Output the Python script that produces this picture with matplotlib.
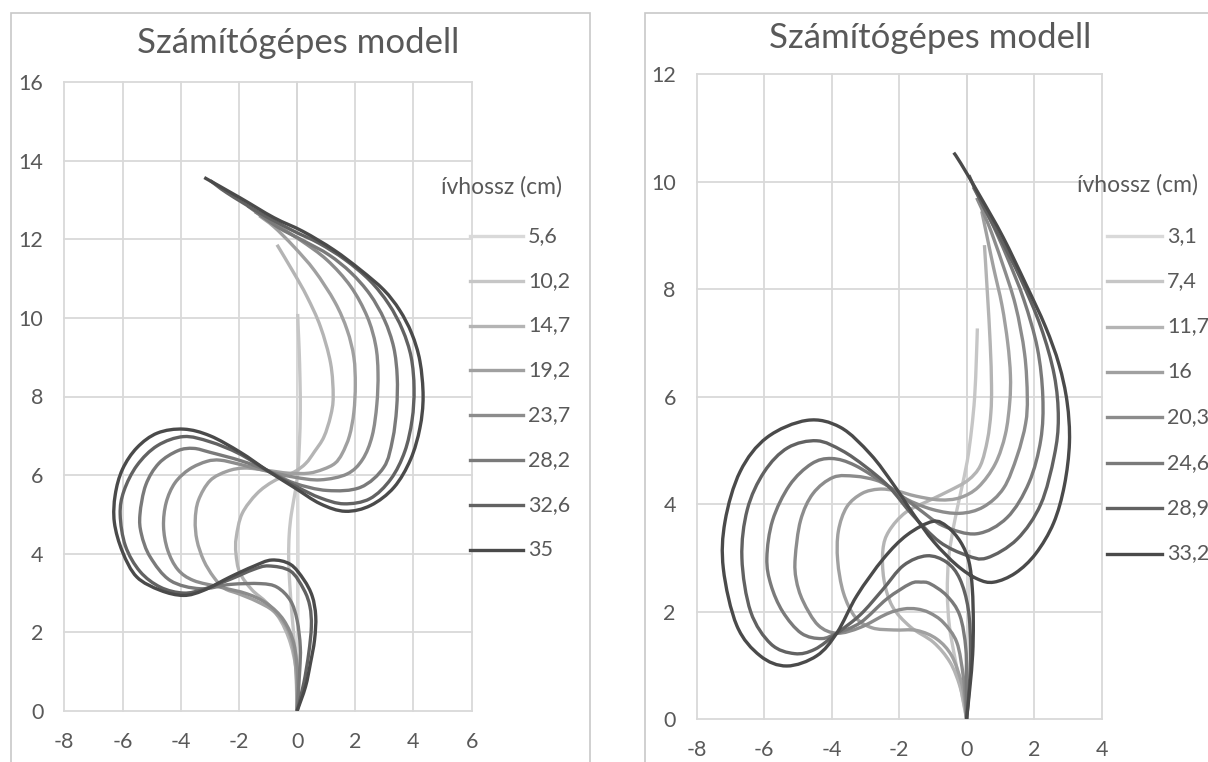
import matplotlib
matplotlib.use("Agg")
import matplotlib.pyplot as plt
from matplotlib.lines import Line2D
from matplotlib.patches import Rectangle, PathPatch
from matplotlib.path import Path

plt.rcParams['font.family'] = ['Lato', 'DejaVu Sans']
plt.rcParams['axes.unicode_minus'] = False

# Left chart: traced shapes, one x/y list per arc length
l_5_6_x = [0, 0.02, 0.03, 0.03, 0.02]
l_5_6_y = [0, 1.5, 3.0, 4.5, 5.6]

l_10_2_x = [0, -0.03, -0.08, -0.17, -0.25, -0.29, -0.27, -0.2, -0.06, 0.02, 0.08, 0.11, 0.1, 0.07, 0.04, 0.02]
l_10_2_y = [0, 0.8, 1.6, 2.4, 3.2, 3.9, 4.5, 5.0, 5.6, 6.05, 6.8, 7.6, 8.4, 9.2, 9.7, 10.1]

l_14_7_x = [0, -0.02, -0.23, -0.58, -1.04, -1.56, -1.97, -2.1, -2.09, -1.89, -1.38, -0.8, -0.1, 0.3, 0.6,
            0.92, 1.15, 1.24, 1.15, 0.8, 0.34, -0.11, -0.69]
l_14_7_y = [0, 0.96, 1.73, 2.32, 2.75, 3.09, 3.52, 4.0, 4.42, 5.02, 5.53, 5.85, 6.08, 6.3, 6.6,
            6.97, 7.5, 8.0, 8.85, 9.78, 10.54, 11.14, 11.86]

l_19_2_x = [0, -0.02, -0.12, -0.35, -0.81, -1.39, -2.0, -2.5, -2.87, -3.21, -3.44, -3.5, -3.39, -2.99,
            -2.4, -1.8, -1.03, -0.3, 0.4, 0.9, 1.3, 1.55, 1.8, 1.95, 2.0, 1.95, 1.72, 1.3, 0.6,
            -0.11, -0.8, -1.3]
l_19_2_y = [0, 0.79, 1.56, 2.11, 2.54, 2.79, 2.98, 3.12, 3.41, 3.83, 4.34, 4.85, 5.36, 5.86,
            6.1, 6.18, 6.12, 6.05, 6.05, 6.15, 6.3, 6.55, 7.0, 7.6, 8.3, 9.0, 9.69, 10.4, 11.2,
            11.81, 12.32, 12.6]

l_23_7_x = [0, 0.02, -0.11, -0.46, -1.03, -1.72, -2.64, -3.56, -4.1, -4.45, -4.59, -4.5, -4.2, -3.7,
            -3.1, -2.64, -2.0, -1.03, -0.11, 0.8, 1.72, 2.25, 2.58, 2.74, 2.78, 2.7, 2.41, 1.84, 1.03,
            0.11, -0.8, -1.45]
l_23_7_y = [0, 0.86, 1.71, 2.31, 2.73, 2.98, 3.15, 3.32, 3.6, 4.1, 4.7, 5.3, 5.8, 6.15,
            6.35, 6.38, 6.28, 6.1, 5.95, 5.88, 6.03, 6.4, 7.0, 7.8, 8.6, 9.3, 10.03, 10.8, 11.47,
            11.98, 12.4, 12.7]

l_28_2_x = [0, 0.09, 0.11, 0.0, -0.23, -0.69, -1.26, -2.3, -3.33, -4.36, -5.05, -5.35, -5.4, -5.2,
            -4.75, -4.1, -3.56, -2.99, -1.95, -1.03, -0.11, 1.03, 2.18, 2.98, 3.28, 3.42, 3.44, 3.32,
            3.0, 2.5, 1.85, 1.1, 0.25, -0.69, -1.7]
l_28_2_y = [0, 1.03, 1.63, 2.31, 2.81, 3.15, 3.24, 3.22, 3.11, 3.32, 3.92, 4.5, 5.0, 5.75,
            6.3, 6.62, 6.68, 6.58, 6.37, 6.12, 5.8, 5.61, 5.69, 6.2, 6.9, 7.7, 8.5, 9.25,
            9.95, 10.6, 11.15, 11.6, 11.95, 12.32, 12.85]

l_32_6_x = [0, 0.23, 0.4, 0.49, 0.44, 0.23, -0.23, -0.98, -1.5, -2.3, -3.2, -3.9, -4.7, -5.4, -5.9,
            -6.08, -5.95, -5.5, -4.8, -3.9, -3.0, -2.0, -1.03, 0.0, 0.8, 1.61, 2.5, 3.22, 3.7, 3.95,
            4.02, 3.92, 3.62, 3.15, 2.5, 1.65, 0.75, -0.15, -1.26, -2.41, -2.98]
l_32_6_y = [0, 0.71, 1.47, 2.15, 2.66, 3.09, 3.56, 3.69, 3.6, 3.35, 3.1, 3.0, 3.15, 3.55, 4.2,
            5.0, 5.6, 6.25, 6.75, 6.98, 6.85, 6.55, 6.12, 5.7, 5.42, 5.27, 5.4, 5.9, 6.6, 7.4,
            8.2, 9.0, 9.7, 10.35, 10.95, 11.48, 11.9, 12.22, 12.66, 13.18, 13.49]

l_35_x = [0, 0.29, 0.46, 0.6, 0.64, 0.52, 0.23, -0.23, -0.87, -1.5, -2.3, -3.21, -3.9, -4.7, -5.51,
          -6.0, -6.28, -6.25, -6.0, -5.5, -4.8, -3.9, -2.99, -1.95, -1.03, -0.11, 0.8, 1.66, 2.53,
          3.33, 3.9, 4.22, 4.33, 4.22, 3.94, 3.52, 2.98, 2.18, 1.26, 0.2, -0.8, -1.95, -3.19]
l_35_y = [0, 0.62, 1.22, 1.81, 2.41, 2.92, 3.34, 3.73, 3.84, 3.68, 3.41, 3.07, 2.94, 3.07, 3.41,
          4.05, 4.8, 5.5, 6.15, 6.7, 7.07, 7.17, 7.0, 6.58, 6.12, 5.69, 5.27, 5.08, 5.23,
          5.69, 6.4, 7.2, 8.0, 8.9, 9.6, 10.2, 10.71, 11.22, 11.73, 12.2, 12.55, 13.05, 13.57]

left_labels = ['5,6', '10,2', '14,7', '19,2', '23,7', '28,2', '32,6', '35']

# Right chart
r_3_1_x = [0, 0.03, 0.05, 0.07]
r_3_1_y = [0, 1.0, 2.1, 3.15]

r_7_4_x = [0, -0.15, -0.34, -0.51, -0.57, -0.53, -0.38, -0.18, 0.02, 0.15, 0.24, 0.29, 0.32]
r_7_4_y = [0, 0.5, 1.12, 1.74, 2.36, 3.0, 3.6, 4.2, 4.8, 5.4, 6.0, 6.7, 7.27]

r_11_7_x = [0, -0.05, -0.2, -0.49, -0.98, -1.67, -2.2, -2.45, -2.48, -2.3, -1.8, -1.07, -0.48, 0.05,
            0.41, 0.62, 0.72, 0.74, 0.7, 0.62, 0.53]
r_11_7_y = [0, 0.19, 0.62, 1.06, 1.43, 1.72, 2.1, 2.6, 3.15, 3.5, 3.85, 4.08, 4.26, 4.45,
            4.72, 5.2, 5.7, 6.2, 7.0, 7.9, 8.82]

r_16_x = [0, -0.05, -0.15, -0.44, -0.88, -1.47, -2.16, -2.8, -3.3, -3.65, -3.82, -3.8, -3.55, -3.1,
          -2.6, -2.1, -1.5, -0.8, -0.2, 0.35, 0.85, 1.15, 1.28, 1.3, 1.22, 1.05, 0.8, 0.6, 0.45]
r_16_y = [0, 0.3, 0.68, 1.18, 1.49, 1.65, 1.66, 1.7, 1.9, 2.35, 2.95, 3.5, 3.95, 4.2,
          4.28, 4.25, 4.15, 4.08, 4.12, 4.32, 4.75, 5.3, 5.9, 6.4, 7.0, 7.7, 8.4, 9.0, 9.45]

r_20_3_x = [0, -0.03, -0.1, -0.29, -0.69, -1.1, -1.47, -1.87, -2.36, -3.14, -3.84, -4.4, -4.85, -5.05,
            -5.08, -4.92, -4.55, -3.95, -3.3, -2.7, -2.31, -1.8, -1.0, -0.2, 0.5, 1.1, 1.5, 1.75,
            1.8, 1.72, 1.45, 1.05, 0.65, 0.3]
r_20_3_y = [0, 0.3, 0.81, 1.43, 1.8, 1.98, 2.05, 2.05, 1.96, 1.71, 1.6, 1.75, 2.2, 2.6,
            3.0, 3.7, 4.2, 4.5, 4.52, 4.45, 4.33, 4.1, 3.9, 3.83, 3.95, 4.3, 4.9, 5.5,
            6.0, 6.8, 7.7, 8.5, 9.2, 9.7]

r_24_6_x = [0, -0.01, -0.02, -0.2, -0.59, -1.08, -1.35, -1.67, -2.36, -3.14, -3.84, -4.3, -4.9, -5.45,
            -5.8, -5.92, -5.75, -5.25, -4.6, -4.0, -3.3, -2.31, -1.5, -0.7, 0.3, 1.2, 1.85, 2.2,
            2.26, 2.1, 1.7, 1.2, 0.7, 0.2]
r_24_6_y = [0, 0.6, 1.3, 1.93, 2.3, 2.52, 2.55, 2.52, 2.24, 1.8, 1.6, 1.5, 1.6, 2.0,
            2.5, 3.0, 3.7, 4.35, 4.75, 4.85, 4.72, 4.33, 3.95, 3.6, 3.45, 3.75, 4.4, 5.2,
            6.0, 6.9, 7.8, 8.6, 9.3, 9.9]

r_28_9_x = [0, 0.08, 0.12, 0.05, -0.2, -0.59, -1.18, -1.87, -2.5, -3.14, -3.84, -4.5, -5.1, -5.8,
            -6.4, -6.66, -6.5, -6.0, -5.3, -4.44, -3.7, -3.0, -2.31, -1.6, -0.8, 0.0, 0.6, 1.5,
            2.2, 2.6, 2.72, 2.6, 2.2, 1.6, 1.0, 0.45, 0.07]
r_28_9_y = [0, 0.6, 1.3, 2.05, 2.61, 2.92, 3.04, 2.86, 2.4, 1.95, 1.6, 1.3, 1.22, 1.4,
            2.0, 3.0, 3.9, 4.6, 5.05, 5.18, 5.0, 4.7, 4.33, 3.8, 3.3, 3.05, 3.0, 3.35,
            4.0, 4.9, 5.6, 6.4, 7.3, 8.2, 8.95, 9.6, 10.12]

r_33_2_x = [0, 0.1, 0.18, 0.2, 0.17, 0.07, -0.18, -0.57, -1.0, -1.76, -2.46, -3.25, -3.84, -4.44,
            -5.33, -6.12, -6.81, -7.21, -7.16, -6.71, -5.92, -4.73, -3.74, -2.85, -2.16, -1.56,
            -0.97, -0.28, 0.32, 0.81, 1.45, 2.05, 2.58, 2.9, 3.05, 2.98, 2.74, 2.34, 1.76, 1.08,
            0.41, -0.17, -0.38]
r_33_2_y = [0, 0.6, 1.2, 1.8, 2.43, 2.93, 3.3, 3.58, 3.68, 3.43, 2.99, 2.3, 1.61, 1.18,
            0.99, 1.18, 1.74, 2.8, 3.68, 4.61, 5.24, 5.56, 5.43, 4.93, 4.36, 3.8,
            3.3, 2.86, 2.61, 2.55, 2.72, 3.08, 3.65, 4.35, 5.15, 5.9, 6.6, 7.3, 8.09, 8.97,
            9.72, 10.34, 10.54]

right_labels = ['3,1', '7,4', '11,7', '16', '20,3', '24,6', '28,9', '33,2']

greys = ['#d9d9d9', '#c6c6c6', '#b4b4b4', '#a0a0a0', '#8c8c8c', '#7a7a7a', '#626262', '#4a4a4a']
text_col = '#595959'

W, H = 1208, 762
fig = plt.figure(figsize=(W / 100, H / 100), dpi=100)


def fx(px):
    return px / W


def fy(py):
    return 1 - py / H


def smoothed(x, y):
    # Excel-style "smoothed line": cubic Bezier segments through the traced points
    pts = list(zip(x, y))
    n = len(pts)
    verts = [pts[0]]
    codes = [Path.MOVETO]
    for i in range(n - 1):
        p0 = pts[max(i - 1, 0)]
        p1 = pts[i]
        p2 = pts[i + 1]
        p3 = pts[min(i + 2, n - 1)]
        c1 = (p1[0] + (p2[0] - p0[0]) / 6, p1[1] + (p2[1] - p0[1]) / 6)
        c2 = (p2[0] - (p3[0] - p1[0]) / 6, p2[1] - (p3[1] - p1[1]) / 6)
        verts += [c1, c2, p2]
        codes += [Path.CURVE4] * 3
    return Path(verts, codes)


def panel(rect, series, xlim, ylim):
    ax = fig.add_axes(rect)
    ax.set_xlim(*xlim)
    ax.set_ylim(*ylim)
    ax.set_xticks(range(xlim[0], xlim[1] + 1, 2))
    ax.set_yticks(range(ylim[0], ylim[1] + 1, 2))
    ax.grid(True, color='#d9d9d9', lw=1.3, zorder=0)
    for g in ax.get_xgridlines() + ax.get_ygridlines():
        g.set_clip_on(False)
    ax.axvline(0, color='#bfbfbf', lw=1.2, zorder=1)
    for s in ax.spines.values():
        s.set_visible(False)
    ax.tick_params(length=0, labelsize=15.5, labelcolor=text_col)
    ax.tick_params(axis='y', pad=15)
    ax.tick_params(axis='x', pad=15)
    for (x, y), c in zip(series, greys):
        ax.add_patch(PathPatch(smoothed(x, y), fill=False, edgecolor=c, lw=2.4,
                               joinstyle='round', capstyle='butt', zorder=3))
    return ax


left_series = [(l_5_6_x, l_5_6_y), (l_10_2_x, l_10_2_y), (l_14_7_x, l_14_7_y), (l_19_2_x, l_19_2_y),
               (l_23_7_x, l_23_7_y), (l_28_2_x, l_28_2_y), (l_32_6_x, l_32_6_y), (l_35_x, l_35_y)]
right_series = [(r_3_1_x, r_3_1_y), (r_7_4_x, r_7_4_y), (r_11_7_x, r_11_7_y), (r_16_x, r_16_y),
                (r_20_3_x, r_20_3_y), (r_24_6_x, r_24_6_y), (r_28_9_x, r_28_9_y), (r_33_2_x, r_33_2_y)]

panel([fx(64.3), fy(711), fx(471.7 - 64.3), (711 - 82) / H], left_series, (-8, 6), (0, 16))
panel([fx(696.7), fy(719.2), fx(1101.5 - 696.7), (719.2 - 74.2) / H], right_series, (-8, 4), (0, 12))

# chart frames
fig.add_artist(Rectangle((fx(10.5), -0.05), fx(579), fy(12.5) + 0.05, transform=fig.transFigure,
                         fill=False, ec='#c8c8c8', lw=1.2))
fig.add_artist(Rectangle((fx(645), -0.05), fx(600), fy(12.5) + 0.05, transform=fig.transFigure,
                         fill=False, ec='#c8c8c8', lw=1.2))

# titles
fig.text(fx(298), fy(43), 'Számítógépes modell', ha='center', va='center', fontsize=25, color=text_col)
fig.text(fx(930), fy(38), 'Számítógépes modell', ha='center', va='center', fontsize=25, color=text_col)


def legend(title_x, title_y, line_x0, line_x1, y0, step, labels):
    fig.text(fx(title_x), fy(title_y), 'ívhossz (cm)', ha='left', va='center', fontsize=16.5, color=text_col)
    for i, (lab, c) in enumerate(zip(labels, greys)):
        y = y0 + i * step
        fig.add_artist(Line2D([fx(line_x0), fx(line_x1)], [fy(y), fy(y)], color=c, lw=2.4,
                              transform=fig.transFigure))
        fig.text(fx(line_x1 + 5), fy(y), lab, ha='left', va='center', fontsize=15.5, color=text_col)


legend(441, 187, 470, 523, 235.7, 44.9, left_labels)
legend(1077, 185, 1107, 1162, 235.7, 45.4, right_labels)

fig.savefig('out.png', dpi=100)
